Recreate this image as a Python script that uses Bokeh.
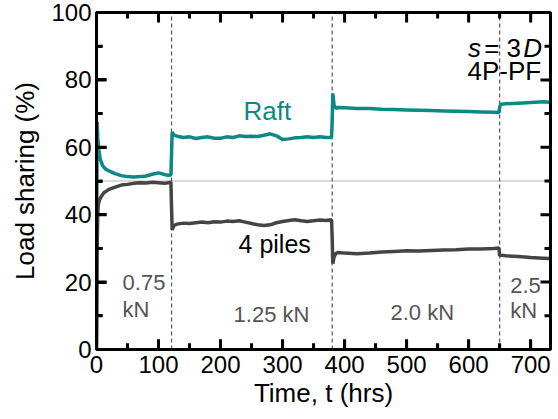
from bokeh.plotting import figure
from bokeh.models import Range1d, Label, FixedTicker
from bokeh.embed import file_html
from bokeh.resources import INLINE

# ---- data ----
raft_t = [0, 0.5, 1, 2, 4, 6, 10, 15, 20, 30, 40, 50, 60, 70, 80, 90, 100, 105, 110, 115, 120,
          121, 122, 125, 130, 140, 150, 160, 170, 180, 190, 200, 210, 220, 230, 240, 250, 260,
          270, 280, 290, 300, 310, 320, 330, 340, 350, 360, 370, 379,
          380, 381, 383, 386, 390, 400, 420, 440, 460, 480, 500, 520, 540, 560, 580, 600, 620,
          640, 649, 650, 652, 660, 680, 700, 720, 730]
raft_v = [0, 40, 67.5, 63, 59, 56.5, 54.5, 53.5, 53, 52.2, 51.6, 51.3, 51.2, 51.3, 51.5, 52, 52.4,
          52.2, 51.9, 51.7, 51.8,
          58, 64.5, 63.6, 63.3, 62.9, 63.1, 62.6, 62.9, 63.1, 62.7, 62.7, 63.1, 62.9, 63.4, 63.2,
          63.3, 63.2, 63.6, 64.0, 63.4, 62.3, 62.5, 62.8, 62.9, 63.1, 62.9, 63.1, 62.9, 63.0,
          68, 76, 72.5, 71.6, 71.8, 71.7, 71.5, 71.5, 71.3, 71.2, 71.1, 71.0, 70.9, 70.8, 70.7,
          70.6, 70.5, 70.4, 70.3,
          72, 72.8, 72.9, 73.1, 73.3, 73.5, 73.4]

piles_t = [0, 0.5, 1, 2, 3, 5, 8, 12, 16, 20, 30, 40, 50, 60, 70, 80, 90, 100, 110, 120,
           121, 122, 125, 130, 140, 150, 160, 170, 180, 190, 200, 210, 220, 230, 240, 250, 260,
           270, 280, 290, 300, 310, 320, 330, 340, 350, 360, 370, 379,
           380, 381, 383, 386, 390, 400, 420, 440, 460, 480, 500, 520, 540, 560, 580, 600, 620,
           640, 649, 650, 652, 660, 680, 700, 720, 730]
piles_v = [0, 15, 30, 40, 43, 44.5, 45.5, 46.5, 47, 47.5, 48.2, 48.8, 49, 49.3, 49.5, 49.4, 49.6,
           49.5, 49.3, 49.6,
           42, 35.5, 36.8, 37.2, 37.5, 37.4, 37.6, 37.8, 37.6, 37.9, 37.8, 38.1, 38.0, 38.2, 37.8,
           37.4, 37.0, 36.8, 37.0, 37.6, 38.0, 38.3, 38.5, 38.2, 38.0, 38.2, 38.4, 38.3, 38.5,
           33, 25.5, 27.5, 28.5, 28.8, 28.6, 28.4, 28.6, 28.9, 29.1, 29.3, 29.2, 29.4, 29.5, 29.6,
           29.8, 29.8, 30.0, 30.1,
           27.8, 28.0, 27.8, 27.6, 27.3, 27.1, 27.0]

steps = [121, 380, 650]          # load increments (hrs)
half_level = 50                  # 50 % reference level
x_ticks = [0, 100, 200, 300, 400, 500, 600, 700]
x_minor = [50, 150, 250, 350, 450, 550, 650]
y_ticks = [0, 20, 40, 60, 80, 100]
y_minor = [10, 30, 50, 70, 90]
X_MAX, Y_MAX = 732, 100

TEAL = "#0b8a84"
DARK = "#444444"
GRAYTXT = "#555555"
FONT = "Liberation Sans"

W, H = 558, 419
BL, BR, BT, BB = 96, 8, 12, 70

p = figure(width=W, height=H, output_backend="svg", toolbar_location=None,
           x_range=Range1d(0, X_MAX), y_range=Range1d(0, Y_MAX),
           min_border_left=BL, min_border_right=BR, min_border_top=BT, min_border_bottom=BB)
p.grid.visible = False
p.outline_line_color = "#000000"
p.outline_line_width = 3

for ax in (p.xaxis[0], p.yaxis[0]):
    ax.axis_line_width = 3
    ax.axis_line_color = "#000000"
    ax.major_tick_in = 10
    ax.major_tick_out = 0
    ax.minor_tick_in = 6
    ax.minor_tick_out = 0
    ax.major_tick_line_width = 3
    ax.minor_tick_line_width = 3
    ax.major_tick_line_color = "#000000"
    ax.minor_tick_line_color = "#000000"
    ax.major_label_text_font = FONT
    ax.major_label_text_font_size = "24px"
    ax.major_label_text_color = "#000000"

p.xaxis.ticker = FixedTicker(ticks=x_ticks, minor_ticks=x_minor)
p.yaxis.ticker = FixedTicker(ticks=y_ticks, minor_ticks=y_minor)
p.xaxis.major_label_standoff = 6
p.yaxis.major_label_standoff = 5

p.yaxis.axis_label = "Load sharing (%)"
p.yaxis.axis_label_text_font = FONT
p.yaxis.axis_label_text_font_size = "26px"
p.yaxis.axis_label_text_font_style = "normal"
p.yaxis.axis_label_text_color = "#000000"
p.yaxis.axis_label_standoff = 8

p.xaxis.axis_label = "Time, t (hrs)"
p.xaxis.axis_label_text_font = FONT
p.xaxis.axis_label_text_font_size = "26px"
p.xaxis.axis_label_text_font_style = "normal"
p.xaxis.axis_label_text_color = "#000000"
p.xaxis.axis_label_standoff = 2

# reference lines drawn as glyphs
p.line([0, X_MAX], [half_level, half_level], line_color="#b5b5b5", line_width=1.2)
p.multi_line([[s, s] for s in steps], [[0, Y_MAX] for s in steps],
             line_color="#555555", line_width=1.2, line_dash="4 3")

# series
p.line(raft_t, raft_v, line_color=TEAL, line_width=3.5)
p.line(piles_t, piles_v, line_color=DARK, line_width=3.5)

# inward ticks on all four sides (as segments inside the frame)
fw, fh = W - BL - BR, H - BT - BB
TX = 10 * X_MAX / fw
TY = 10 * Y_MAX / fh
def ticks_x(vals, y0, y1):
    p.segment(vals, [y0] * len(vals), vals, [y1] * len(vals), line_color="#000000", line_width=3)
def ticks_y(vals, x0, x1):
    p.segment([x0] * len(vals), vals, [x1] * len(vals), vals, line_color="#000000", line_width=3)
ticks_x(x_ticks, 0, TY)
ticks_x(x_ticks, Y_MAX, Y_MAX - TY)
ticks_x(x_minor, 0, 0.6 * TY)
ticks_x(x_minor, Y_MAX, Y_MAX - 0.6 * TY)
ticks_y(y_ticks, 0, TX)
ticks_y(y_ticks, X_MAX, X_MAX - TX)
ticks_y(y_minor, 0, 0.6 * TX)
ticks_y(y_minor, X_MAX, X_MAX - 0.6 * TX)

def lab(x, y, text, size, color="#000000", align="left", style="normal"):
    p.add_layout(Label(x=x, y=y, text=text, text_font=FONT, text_font_size=size,
                       text_color=color, text_align=align, text_baseline="middle",
                       text_font_style=style))

lab(237, 70.9, "Raft", "26px", TEAL)
lab(229, 31.3, "4 piles", "25px")

# load stage labels
lab(42, 19.9, "0.75", "22px", GRAYTXT)
lab(42, 11.9, "kN", "22px", GRAYTXT)
lab(221, 10.5, "1.25 kN", "22px", GRAYTXT)
lab(474, 11.0, "2.0 kN", "22px", GRAYTXT)
lab(667, 19.0, "2.5", "22px", GRAYTXT)
lab(667, 11.6, "kN", "22px", GRAYTXT)

# s = 3D, 4P-PF
lab(599, 89.5, "s", "26px", style="italic")
lab(625, 89.5, "= 3", "26px")
lab(688, 89.5, "D", "26px", style="italic")
lab(717, 82.5, "4P-PF", "26px", align="right")

open("out.html", "w").write(file_html(p, INLINE))
